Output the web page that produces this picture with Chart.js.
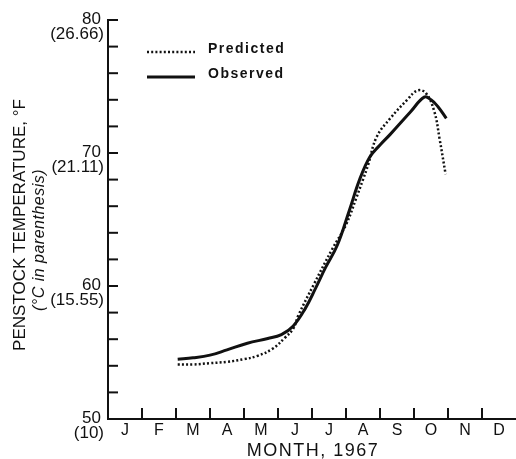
<!DOCTYPE html>
<html>
<head>
<meta charset="utf-8">
<script src="https://cdn.jsdelivr.net/npm/chart.js@4/dist/chart.umd.min.js"></script>
<style>
  html, body { margin: 0; padding: 0; background: #fff; }
  #wrap { width: 516px; height: 459px; position: relative; }
</style>
</head>
<body>
<div id="wrap"><canvas id="tempChart"></canvas></div>
<script>
// ── DATA ─────────────────────────────────────────────────────────────
// x = months since Jan 1 1967, y = penstock temperature (°F)
const predMonths = [2.05, 2.5, 3.0, 3.5, 4.0, 4.4, 4.85, 5.2, 5.45, 5.6, 6.05, 6.6, 7.0, 7.3, 7.5, 7.65, 7.9, 8.3, 8.8, 9.1, 9.35, 9.6, 9.75, 9.93];
const predTemps  = [54.1, 54.1, 54.2, 54.3, 54.5, 54.75, 55.3, 56.1, 56.8, 57.8, 60.1, 62.8, 64.6, 66.6, 68.0, 69.1, 71.2, 72.6, 74.0, 74.7, 74.5, 73.1, 71.1, 68.4];
const obsMonths  = [2.05, 2.5, 3.0, 3.5, 4.1, 4.7, 5.1, 5.45, 5.8, 6.1, 6.4, 6.75, 7.1, 7.4, 7.7, 8.0, 8.3, 8.9, 9.3, 9.5, 9.7, 9.95];
const obsTemps   = [54.5, 54.6, 54.8, 55.2, 55.7, 56.05, 56.35, 57.0, 58.3, 59.8, 61.4, 63.1, 65.7, 68.0, 69.7, 70.6, 71.4, 73.1, 74.2, 74.0, 73.5, 72.6];

const monthLabels = ['J','F','M','A','M','J','J','A','S','O','N','D'];
const yTickF      = [50, 60, 70, 80];
const yTickC      = ['(10)', '(15.55)', '(21.11)', '(26.66)'];
const seriesNames = ['Predicted', 'Observed'];

const FONT = '"Liberation Sans", Arial, sans-serif';
const INK = '#111';

// ── DECORATIONS (ticks, labels, titles, legend) ──────────────────────
const paperAxes = {
  id: 'paperAxes',
  afterDraw(chart) {
    const { ctx, chartArea: a, scales: { x, y } } = chart;
    ctx.save();
    ctx.strokeStyle = INK; ctx.fillStyle = INK; ctx.lineWidth = 2;

    // inward tick marks on y (every 2 °F)
    for (let v = 50; v <= 80; v += 2) {
      const py = y.getPixelForValue(v);
      ctx.beginPath(); ctx.moveTo(a.left, py); ctx.lineTo(a.left + 10, py); ctx.stroke();
    }
    // upward tick marks on x (month boundaries)
    for (let m = 1; m <= 11; m++) {
      const px = x.getPixelForValue(m);
      ctx.beginPath(); ctx.moveTo(px, a.bottom); ctx.lineTo(px, a.bottom - 11); ctx.stroke();
    }

    // y tick labels: °F with °C underneath
    ctx.textAlign = 'right'; ctx.textBaseline = 'middle';
    yTickF.forEach((v, i) => {
      const py = y.getPixelForValue(v);
      ctx.font = `17px ${FONT}`;
      ctx.fillText(String(v), a.left - 7, py - 1);
      ctx.font = `17px ${FONT}`;
      ctx.fillText(yTickC[i], a.left - 4, py + 14);
    });

    // month labels centred in each month
    ctx.textAlign = 'center';
    ctx.font = `16px ${FONT}`;
    monthLabels.forEach((lab, i) => {
      ctx.fillText(lab, x.getPixelForValue(i + 0.5), a.bottom + 12);
    });

    // x title
    ctx.font = `18px ${FONT}`;
    ctx.letterSpacing = '1.5px';
    ctx.fillText('MONTH, 1967', 313, a.bottom + 32);
    ctx.letterSpacing = '0px';

    // y title (two lines, rotated)
    ctx.save();
    ctx.translate(20, 225); ctx.rotate(-Math.PI / 2);
    ctx.font = `17px ${FONT}`;
    ctx.fillText('PENSTOCK TEMPERATURE, °F', 0, 0);
    ctx.restore();
    ctx.save();
    ctx.translate(40, 240); ctx.rotate(-Math.PI / 2);
    ctx.font = `italic 16px ${FONT}`;
    ctx.letterSpacing = '0.5px';
    ctx.fillText('(°C in parenthesis)', 0, 0);
    ctx.restore();

    // legend
    ctx.textAlign = 'left';
    ctx.font = `bold 14px ${FONT}`;
    ctx.letterSpacing = '1.5px';
    chart.data.datasets.forEach((ds, i) => {
      const ly = 50 + i * 25;
      ctx.save();
      ctx.lineWidth = ds.borderWidth;
      ctx.setLineDash(ds.borderDash || []);
      ctx.beginPath(); ctx.moveTo(147, ly + 2); ctx.lineTo(195, ly + 2); ctx.stroke();
      ctx.restore();
      ctx.fillText(seriesNames[i], 208, ly - 1);
    });
    ctx.restore();
  }
};

// ── CHART ────────────────────────────────────────────────────────────
const toXY = (xs, ys) => xs.map((m, i) => ({ x: m, y: ys[i] }));

new Chart(document.getElementById('tempChart'), {
  type: 'line',
  data: {
    datasets: [
      { label: seriesNames[0], data: toXY(predMonths, predTemps), borderColor: INK, borderWidth: 2.5, borderDash: [2, 2.2], pointRadius: 0, tension: 0.4, fill: false, clip: false },
      { label: seriesNames[1], data: toXY(obsMonths, obsTemps), borderColor: INK, borderWidth: 3, pointRadius: 0, tension: 0.4, fill: false, clip: false },
    ]
  },
  options: {
    responsive: true, maintainAspectRatio: false, animation: false,
    layout: { padding: { left: 108, top: 20, right: 0, bottom: 40 } },
    plugins: { legend: { display: false }, tooltip: { enabled: false } },
    scales: {
      x: { type: 'linear', min: 0, max: 12, grid: { display: false, drawTicks: false }, ticks: { display: false }, border: { display: true, color: INK, width: 2 } },
      y: { min: 50, max: 80, grid: { display: false, drawTicks: false }, ticks: { display: false }, border: { display: true, color: INK, width: 2 } }
    }
  },
  plugins: [paperAxes]
});
</script>
</body>
</html>
